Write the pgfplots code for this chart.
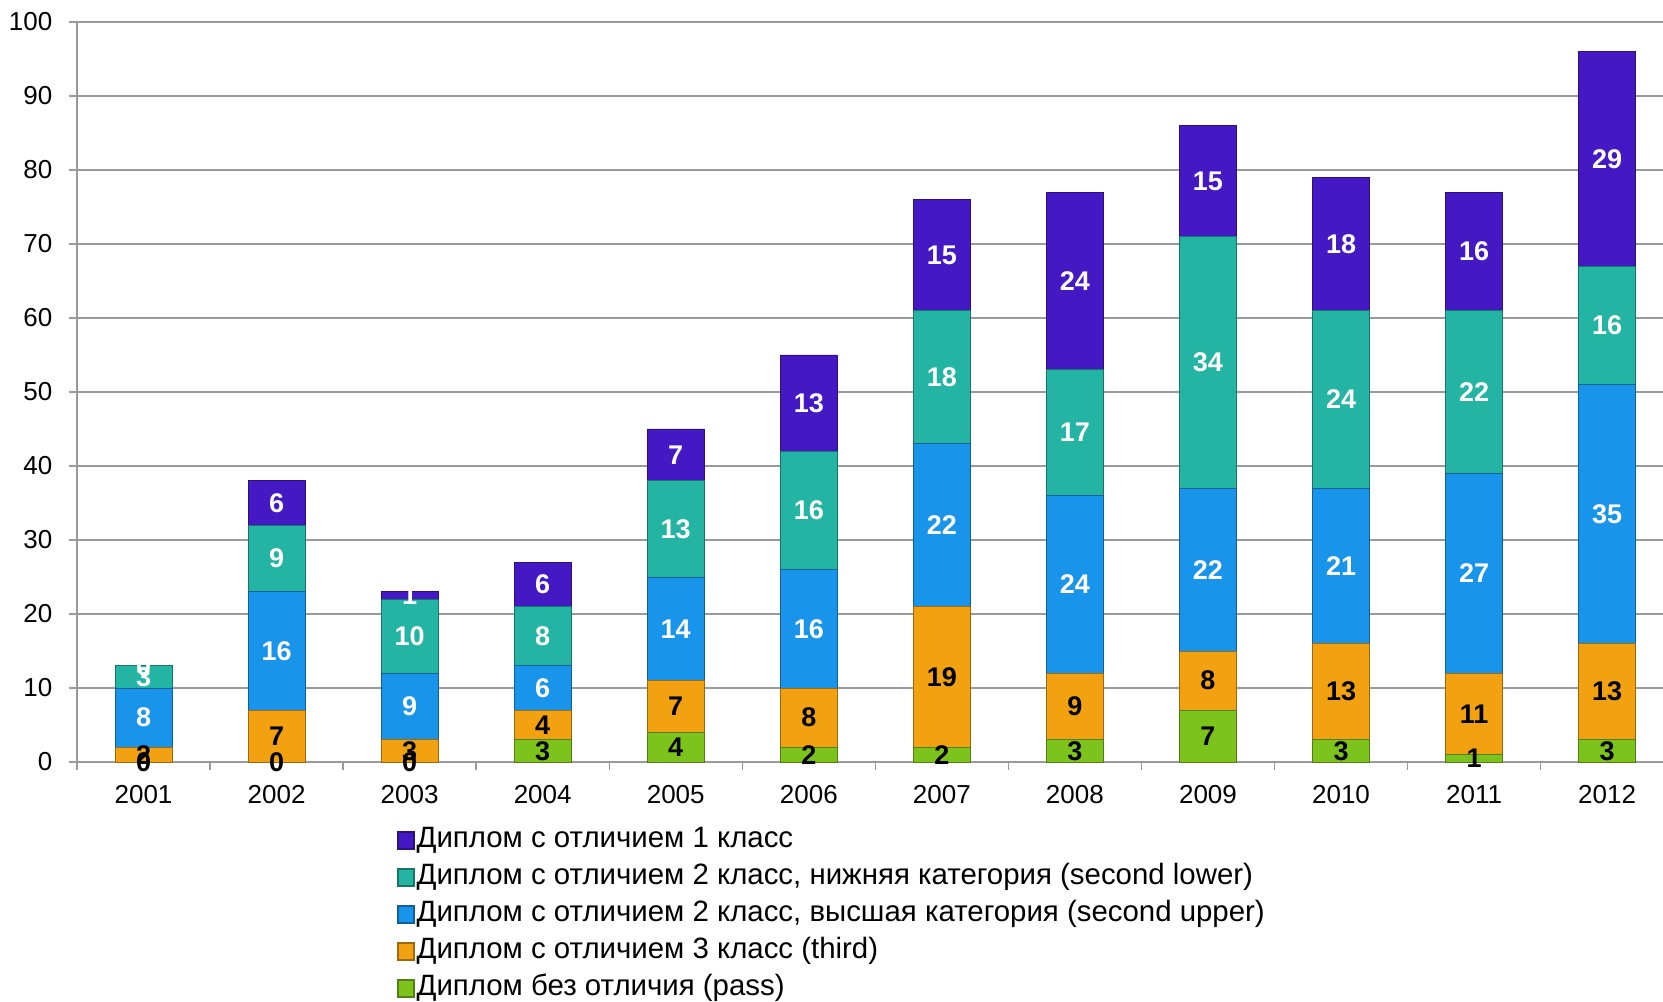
\documentclass[border=0pt]{standalone}
\usepackage{fontspec}
\setmainfont{Liberation Sans}
\usepackage{pgfplots}
\pgfplotsset{compat=1.18}
\definecolor{cFirst}{HTML}{4418C2}
\definecolor{cLower}{HTML}{23B4A3}
\definecolor{cUpper}{HTML}{1894EA}
\definecolor{cThird}{HTML}{F2A210}
\definecolor{cPass}{HTML}{7CC31B}
\definecolor{cGrid}{HTML}{9A9A9A}
\begin{document}
\begin{tikzpicture}
\path[use as bounding box] (0,0) rectangle (831.5pt,500.5pt);
\begin{axis}[
 at={(38.5pt,119.5pt)}, anchor=south west,
 scale only axis, width=793pt, height=370pt,
 ybar stacked, bar width=28.5pt,
 xmin=-0.5, xmax=11.42, ymin=0, ymax=100,
 ytick={0,10,...,100},
 ymajorgrids, grid style={cGrid, line width=0.7pt},
 axis x line*=bottom, axis y line*=left,
 axis line style={cGrid, line width=0.7pt, -},
 tick style={cGrid, line width=0.7pt},
 tick align=outside, major tick length=4pt,
 xtick={-0.5,0.5,...,10.5}, xticklabels={},
 extra x ticks={0,1,2,3,4,5,6,7,8,9,10,11},
 extra x tick labels={2001,2002,2003,2004,2005,2006,2007,2008,2009,2010,2011,2012},
 extra x tick style={major tick length=0pt, grid=none, xticklabel style={yshift=-8pt}},
 ticklabel style={font=\fontsize{13}{15}\selectfont},
 yticklabel style={xshift=-4.8pt},
 /pgf/number format/assume math mode=true,
 reverse legend,
 legend style={at={(0.2018,-0.086)}, anchor=north west, draw=none, fill=none,
   inner sep=0pt, row sep=4pt,
   font=\fontsize{14.7}{16}\selectfont,
   nodes={inner sep=1pt, text height=9.5pt, text depth=3pt}},
 legend cell align=left,
 legend image code/.code={\draw[#1, line width=0.6pt] (0pt,-4.25pt) rectangle (8pt,4.25pt);},
]
\addplot[fill=cPass, draw=cPass!65!black] coordinates {(0,0) (1,0) (2,0) (3,3) (4,4) (5,2) (6,2) (7,3) (8,7) (9,3) (10,1) (11,3)};
\addplot[fill=cThird, draw=cThird!65!black] coordinates {(0,2) (1,7) (2,3) (3,4) (4,7) (5,8) (6,19) (7,9) (8,8) (9,13) (10,11) (11,13)};
\addplot[fill=cUpper, draw=cUpper!65!black] coordinates {(0,8) (1,16) (2,9) (3,6) (4,14) (5,16) (6,22) (7,24) (8,22) (9,21) (10,27) (11,35)};
\addplot[fill=cLower, draw=cLower!65!black] coordinates {(0,3) (1,9) (2,10) (3,8) (4,13) (5,16) (6,18) (7,17) (8,34) (9,24) (10,22) (11,16)};
\addplot[fill=cFirst, draw=cFirst!65!black] coordinates {(0,0) (1,6) (2,1) (3,6) (4,7) (5,13) (6,15) (7,24) (8,15) (9,18) (10,16) (11,29)};
\legend{Диплом без отличия (pass),
Диплом с отличием 3 класс (third),
Диплом с отличием 2 класс{,} высшая категория (second upper),
Диплом с отличием 2 класс{,} нижняя категория (second lower),
Диплом с отличием 1 класс}
\end{axis}
\begin{axis}[
 at={(38.5pt,119.5pt)}, anchor=south west,
 scale only axis, width=793pt, height=370pt,
 xmin=-0.5, xmax=11.42, ymin=0, ymax=100,
 hide axis, clip=false,
 nodes near coords, point meta=explicit symbolic,
 nodes near coords style={anchor=center, font=\bfseries\fontsize{13.5}{15}\selectfont},
]
\addplot[draw=none, mark=none, nodes near coords style={text=black}] coordinates {
(0,0)[0] (1,0)[0] (2,0)[0] (3,1.5)[3] (4,2)[4] (5,1)[2] (6,1)[2] (7,1.5)[3] (8,3.5)[7] (9,1.5)[3] (10,0.5)[1] (11,1.5)[3]};
\addplot[draw=none, mark=none, nodes near coords style={text=black}] coordinates {
(0,1)[2] (1,3.5)[7] (2,1.5)[3] (3,5)[4] (4,7.5)[7] (5,6)[8] (6,11.5)[19] (7,7.5)[9] (8,11)[8] (9,9.5)[13] (10,6.5)[11] (11,9.5)[13]};
\addplot[draw=none, mark=none, nodes near coords style={text=white}] coordinates {
(0,6)[8] (1,15)[16] (2,7.5)[9] (3,10)[6] (4,18)[14] (5,18)[16] (6,32)[22] (7,24)[24] (8,26)[22] (9,26.5)[21] (10,25.5)[27] (11,33.5)[35]};
\addplot[draw=none, mark=none, nodes near coords style={text=white}] coordinates {
(0,11.5)[3] (1,27.5)[9] (2,17)[10] (3,17)[8] (4,31.5)[13] (5,34)[16] (6,52)[18] (7,44.5)[17] (8,54)[34] (9,49)[24] (10,50)[22] (11,59)[16]};
\addplot[draw=none, mark=none, nodes near coords style={text=white}] coordinates {
(0,13)[0] (1,35)[6] (2,22.5)[1] (3,24)[6] (4,41.5)[7] (5,48.5)[13] (6,68.5)[15] (7,65)[24] (8,78.5)[15] (9,70)[18] (10,69)[16] (11,81.5)[29]};
\end{axis}
\end{tikzpicture}
\end{document}
